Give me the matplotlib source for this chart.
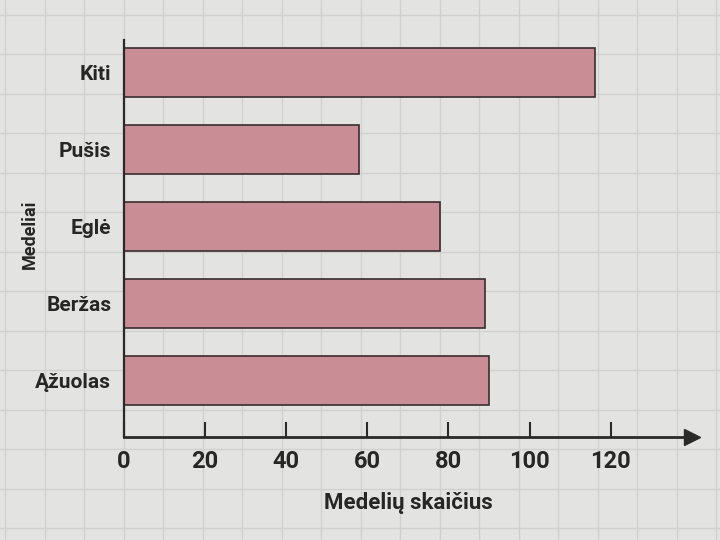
import numpy as np
import matplotlib.pyplot as plt

# Duomenys
medeliai = ['Ąžuolas', 'Beržas', 'Eglė', 'Pušis', 'Kiti']
kiekis = [90, 89, 78, 58, 116]
x_ticks = [0, 20, 40, 60, 80, 100, 120]

plt.rcParams['font.family'] = ['Roboto', 'DejaVu Sans']
txt = '#262626'

fig = plt.figure(figsize=(7.2, 5.4), dpi=100)
fig.patch.set_facecolor('#e3e3e1')

# languoto popieriaus fonas
bg = fig.add_axes([0, 0, 1, 1], zorder=0)
bg.set_xlim(0, 720); bg.set_ylim(0, 540)
for gx in np.arange(5, 720, 39.5):
    bg.axvline(gx, color='#d0d0ce', lw=1)
for gy in np.arange(12, 540, 39.5):
    bg.axhline(gy, color='#d0d0ce', lw=1)
bg.axis('off')

ax = fig.add_axes([0.172, 0.19, 0.789, 0.736], zorder=1)
ax.patch.set_alpha(0)
y = np.arange(len(medeliai))
ax.barh(y, kiekis, height=0.64, color='#c98d95', edgecolor='#3a2c2e', linewidth=1.2)

ax.set_xlim(0, 140)
ax.set_ylim(-0.74, 4.42)
ax.set_xticks(x_ticks)
ax.set_xticklabels([str(t) for t in x_ticks], fontsize=17, fontweight='bold', color=txt)
ax.set_yticks(y)
ax.set_yticklabels(medeliai, fontsize=15, fontweight='bold', color=txt)
ax.tick_params(axis='x', direction='in', length=11, width=1.5, color='#2a2a2a', pad=9)
ax.tick_params(axis='y', length=0, pad=9)

for s in ['top', 'right']:
    ax.spines[s].set_visible(False)
ax.spines['left'].set_linewidth(1.6)
ax.spines['bottom'].set_linewidth(2)
ax.spines['left'].set_color('#2a2a2a')
ax.spines['bottom'].set_color('#2a2a2a')
ax.plot(1, 0, '>', color='#2a2a2a', markersize=11, transform=ax.transAxes, clip_on=False)

ax.set_xlabel('Medelių skaičius', fontsize=16, fontweight='bold', color=txt, labelpad=14)
ax.set_ylabel('Medeliai', fontsize=13, fontweight='bold', color=txt)
ax.yaxis.set_label_coords(-0.15, 0.51)

plt.savefig('out.png', dpi=100, facecolor=fig.get_facecolor())
